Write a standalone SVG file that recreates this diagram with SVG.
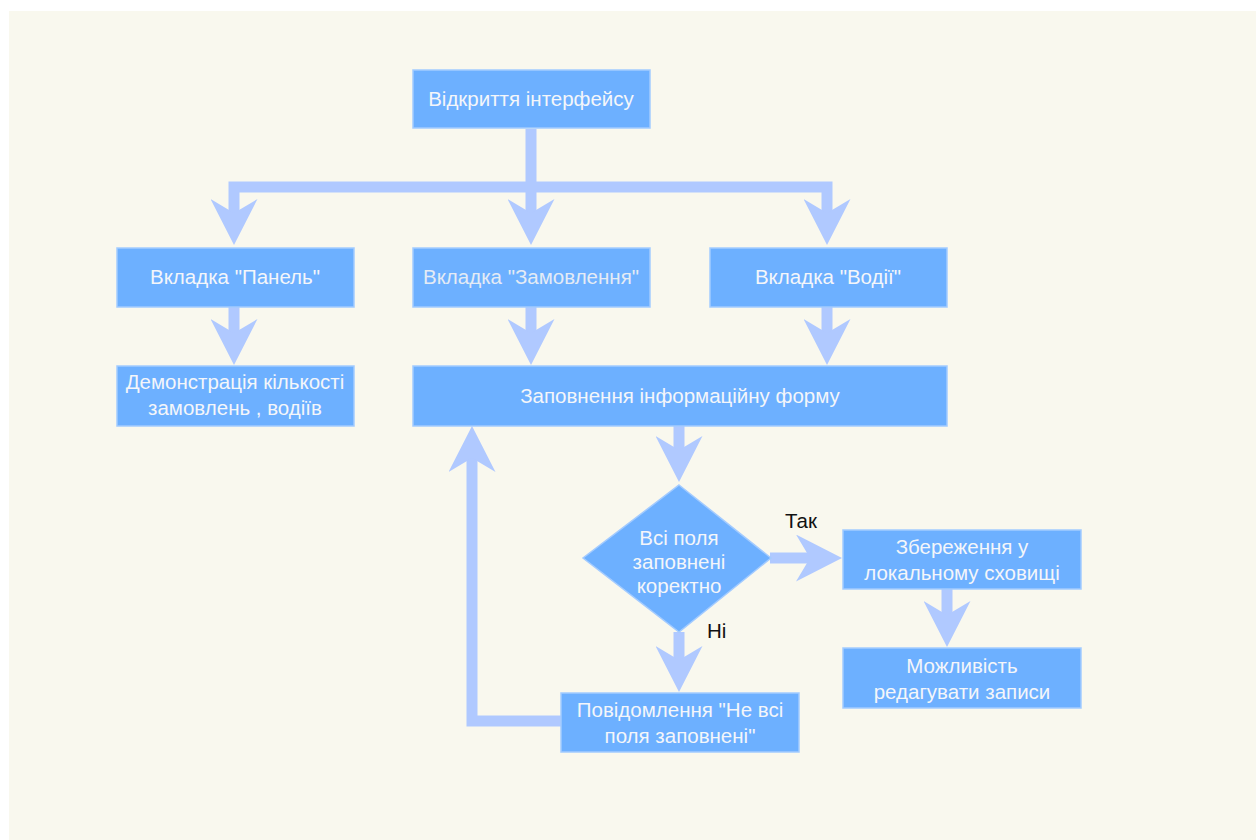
<svg xmlns="http://www.w3.org/2000/svg" width="1256" height="840" viewBox="0 0 1256 840">
<style>
.bg{fill:#F9F8EE}
.box{fill:#6DB0FF;stroke:#A3CBFF;stroke-width:1.5}
.t{font-family:"Liberation Sans",Arial,sans-serif;font-size:20.5px;fill:#F4F6FA;text-anchor:middle}
.lbl{font-family:"Liberation Sans",Arial,sans-serif;font-size:20.5px;fill:#111111}
.c{fill:none;stroke:#B0C9FF;stroke-width:11;stroke-linejoin:miter;marker-end:url(#ah)}
</style>
<defs>
<marker id="ah" markerUnits="userSpaceOnUse" viewBox="0 0 46 47" refX="14" refY="23.5" markerWidth="46" markerHeight="47" orient="auto">
<path d="M0,0 L46,23.5 L0,47 L14,23.5 Z" fill="#B0C9FF"/>
</marker>
</defs>
<rect width="1256" height="840" fill="#FFFFFF"/>
<rect class="bg" x="9" y="11" width="1247" height="829"/>
<g id="connectors">
<path class="c" d="M531,129 V213"/>
<path class="c" d="M531,187 H234 V213"/>
<path class="c" d="M531,187 H827 V213"/>
<path class="c" d="M234,307 V333"/>
<path class="c" d="M531,307 V333"/>
<path class="c" d="M827,307 V333"/>
<path class="c" d="M679,426 V450"/>
<path class="c" d="M770,558 H810"/>
<path class="c" d="M679,632 V660"/>
<path class="c" d="M561,721 H472 V458"/>
<path class="c" d="M947,589 V615"/>
</g>
<g id="n-open"><rect class="box" x="413" y="70" width="237" height="58"/><text class="t" x="531" y="106">Відкриття інтерфейсу</text></g>
<g id="n-panel"><rect class="box" x="117" y="248" width="237" height="59"/><text class="t" x="235" y="284">Вкладка "Панель"</text></g>
<g id="n-orders"><rect class="box" x="413" y="248" width="237" height="59"/><text class="t" x="531" y="284" style="fill:#E4EBF5">Вкладка "Замовлення"</text></g>
<g id="n-drivers"><rect class="box" x="710" y="248" width="237" height="59"/><text class="t" x="828" y="284">Вкладка "Водії"</text></g>
<g id="n-demo"><rect class="box" x="117" y="366" width="237" height="60"/><text class="t" x="235" y="389">Демонстрація кількості</text><text class="t" x="235" y="415">замовлень , водіїв</text></g>
<g id="n-form"><rect class="box" x="413" y="366" width="534" height="60"/><text class="t" x="680" y="403">Заповнення інформаційну форму</text></g>
<g id="n-check"><polygon points="679,485 771,558 679,632 583,558" fill="#6DB0FF" stroke="#A3CBFF" stroke-width="1.5"/><text class="t" x="679" y="545">Всі поля</text><text class="t" x="679" y="569">заповнені</text><text class="t" x="679" y="593">коректно</text></g>
<g id="n-save"><rect class="box" x="843" y="530" width="238" height="59"/><text class="t" x="962" y="554">Збереження у</text><text class="t" x="962" y="580">локальному сховищі</text></g>
<g id="n-edit"><rect class="box" x="843" y="648" width="238" height="60"/><text class="t" x="962" y="673">Можливість</text><text class="t" x="962" y="699">редагувати записи</text></g>
<g id="n-msg"><rect class="box" x="561" y="693" width="238" height="59"/><text class="t" x="680" y="717">Повідомлення "Не всі</text><text class="t" x="680" y="743">поля заповнені"</text></g>
<text class="lbl" x="785" y="528">Так</text>
<text class="lbl" x="707" y="638">Ні</text>
</svg>
